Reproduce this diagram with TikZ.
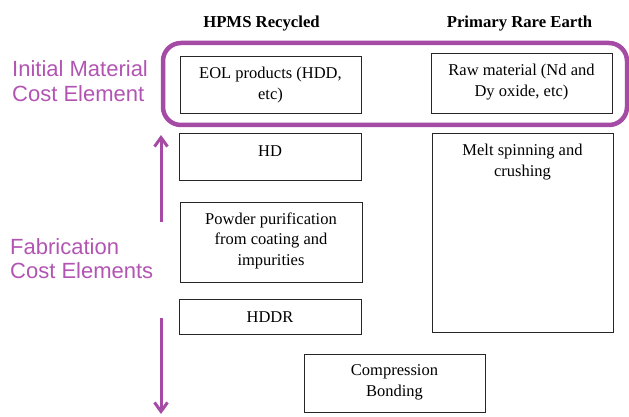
\documentclass[tikz,border=0pt]{standalone}
\usepackage{fontspec}
\setmainfont{Liberation Serif}
\newfontfamily\labelfont{Liberation Sans}
\usetikzlibrary{arrows.meta}
\definecolor{purp}{RGB}{165,75,165}
\definecolor{purptext}{RGB}{178,85,178}
\tikzset{
  box/.style={draw=black!85, line width=0.9pt, rectangle, inner sep=0pt},
  boxtext/.style={anchor=north, align=center, inner sep=0pt, font=\fontsize{16.5}{20.5}\selectfont, execute at begin node={\rule{0pt}{13pt}}},
  title/.style={anchor=base, inner sep=0pt, font=\fontsize{16.7}{20}\selectfont\bfseries},
  costlabel/.style={anchor=base west, inner sep=0pt, text=purptext, font=\labelfont\fontsize{22}{25}\selectfont},
  purpline/.style={draw=purp, line width=3pt, -{Straight Barb[length=9pt,width=13pt,line width=3pt]}},
}
\begin{document}
\begin{tikzpicture}[x=1pt,y=-1pt]
\useasboundingbox (0,0) rectangle (629,417);
% titles
\node[title] (t1) at (261.5,28) {HPMS Recycled};
\node[title] (t2) at (519.5,28) {Primary Rare Earth};
% boxes
\node[box, minimum width=181pt, minimum height=57pt] (eol) at (270.5,84.5) {};
\node[boxtext] (eolt) at ([yshift=-11.5pt]eol.north) {EOL products (HDD,\\etc)};
\node[box, minimum width=181pt, minimum height=60pt] (raw) at (521.5,83) {};
\node[boxtext] (rawt) at ([yshift=-11.5pt]raw.north) {Raw material (Nd and\\Dy oxide, etc)};
\node[box, minimum width=182pt, minimum height=47pt] (hd) at (270,156.5) {};
\node[boxtext] (hdt) at ([yshift=-11pt]hd.north) {HD};
\node[box, minimum width=181pt, minimum height=199pt] (melt) at (522.5,232.5) {};
\node[boxtext] (meltt) at ([yshift=-11.5pt]melt.north) {Melt spinning and\\crushing};
\node[box, minimum width=182pt, minimum height=80pt] (pow) at (271,242) {};
\node[boxtext] (powt) at ([yshift=-11pt]pow.north) {Powder purification\\from coating and\\impurities};
\node[box, minimum width=182pt, minimum height=35pt] (hddr) at (270,316.5) {};
\node[boxtext] (hddrt) at ([yshift=-11pt]hddr.north) {HDDR};
\node[box, minimum width=181pt, minimum height=58pt] (comp) at (394.5,383) {};
\node[boxtext] (compt) at ([yshift=-11pt]comp.north) {Compression\\Bonding};
% purple group
\draw[draw=purp, line width=4.5pt, rounded corners=18pt] (163,43) rectangle (627,125);
% labels
\node[costlabel] (l1) at (12,77) {Initial Material};
\node[costlabel] (l2) at (12,102) {Cost Element};
\node[costlabel] (l3) at (10,254) {Fabrication};
\node[costlabel] (l4) at (10,278) {Cost Elements};
% arrows
\coordinate (ua) at (161,222);
\coordinate (ub) at (161,135);
\coordinate (da) at (161,318);
\coordinate (db) at (161,414);
\draw[purpline] (ua) -- (ub);
\draw[purpline] (da) -- (db);
\end{tikzpicture}
\end{document}
